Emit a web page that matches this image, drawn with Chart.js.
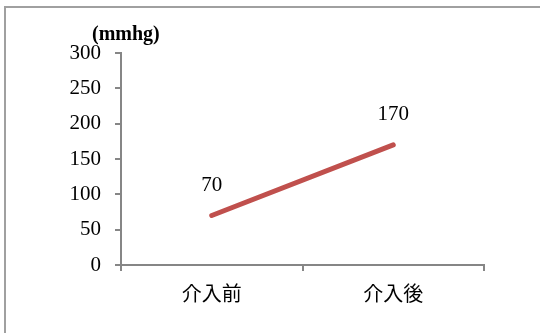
<!DOCTYPE html>
<html>
<head>
<meta charset="utf-8">
<script src="https://cdn.jsdelivr.net/npm/chart.js@4/dist/chart.umd.min.js"></script>
<style>
    html, body { margin: 0; padding: 0; background: #fff; overflow: hidden; }
    #wrap { position: relative; width: 540px; height: 333px; }
    #frame {
        position: absolute; left: 4px; top: 6px; width: 560px; height: 360px;
        border: 2px solid #a0a0a0; box-sizing: border-box;
    }
    canvas { position: absolute; left: 0; top: 0; }
</style>
</head>
<body>
<div id="wrap">
    <div id="frame"></div>
    <canvas id="chart" width="540" height="333"></canvas>
</div>
<script>
const categories = ["介入前", "介入後"];
const pressure = [70, 170];
const yTicks = [0, 50, 100, 150, 200, 250, 300];
const unitLabel = "(mmhg)";

const axisColor = "#868686";
const serif = "'Liberation Serif', 'DejaVu Serif', serif";

// value labels above each point + unit text over the y axis
const labelsPlugin = {
    id: "labels",
    afterDatasetsDraw(chart) {
        const ctx = chart.ctx;
        const meta = chart.getDatasetMeta(0);
        ctx.save();
        ctx.fillStyle = "#000";
        ctx.font = "21px " + serif;
        ctx.textAlign = "center";
        ctx.textBaseline = "middle";
        meta.data.forEach((pt, i) => {
            ctx.fillText(String(pressure[i]), pt.x, pt.y - 30);
        });
        ctx.font = "bold 20px " + serif;
        ctx.textAlign = "left";
        ctx.fillText(unitLabel, 92, 35);
        ctx.restore();
    },
};

new Chart(document.getElementById("chart"), {
    type: "line",
    data: {
        labels: categories,
        datasets: [{
            data: pressure,
            borderColor: "#C0504D",
            borderWidth: 5,
            borderCapStyle: "round",
            pointRadius: 0,
            tension: 0,
        }],
    },
    options: {
        responsive: false,
        animation: false,
        layout: { padding: { left: 0, right: 56, top: 53, bottom: 0 } },
        plugins: { legend: { display: false }, tooltip: { enabled: false } },
        scales: {
            x: {
                offset: true,
                grid: {
                    offset: true,
                    drawOnChartArea: false,
                    drawTicks: true,
                    tickLength: 6,
                    color: axisColor,
                    lineWidth: 2,
                },
                border: { color: axisColor, width: 2 },
                ticks: { color: "#000", padding: 10, font: { family: "'Noto Sans CJK JP'", size: 20 } },
                afterFit(scale) { scale.height = 68; },
            },
            y: {
                min: 0,
                max: 300,
                afterBuildTicks(scale) { scale.ticks = yTicks.map((v) => ({ value: v })); },
                grid: {
                    drawOnChartArea: false,
                    drawTicks: true,
                    tickLength: 6,
                    color: axisColor,
                    lineWidth: 2,
                },
                border: { color: axisColor, width: 2 },
                ticks: { color: "#000", padding: 14, font: { family: serif, size: 21 } },
                afterFit(scale) { scale.width = 121; },
            },
        },
    },
    plugins: [labelsPlugin],
});
</script>
</body>
</html>
